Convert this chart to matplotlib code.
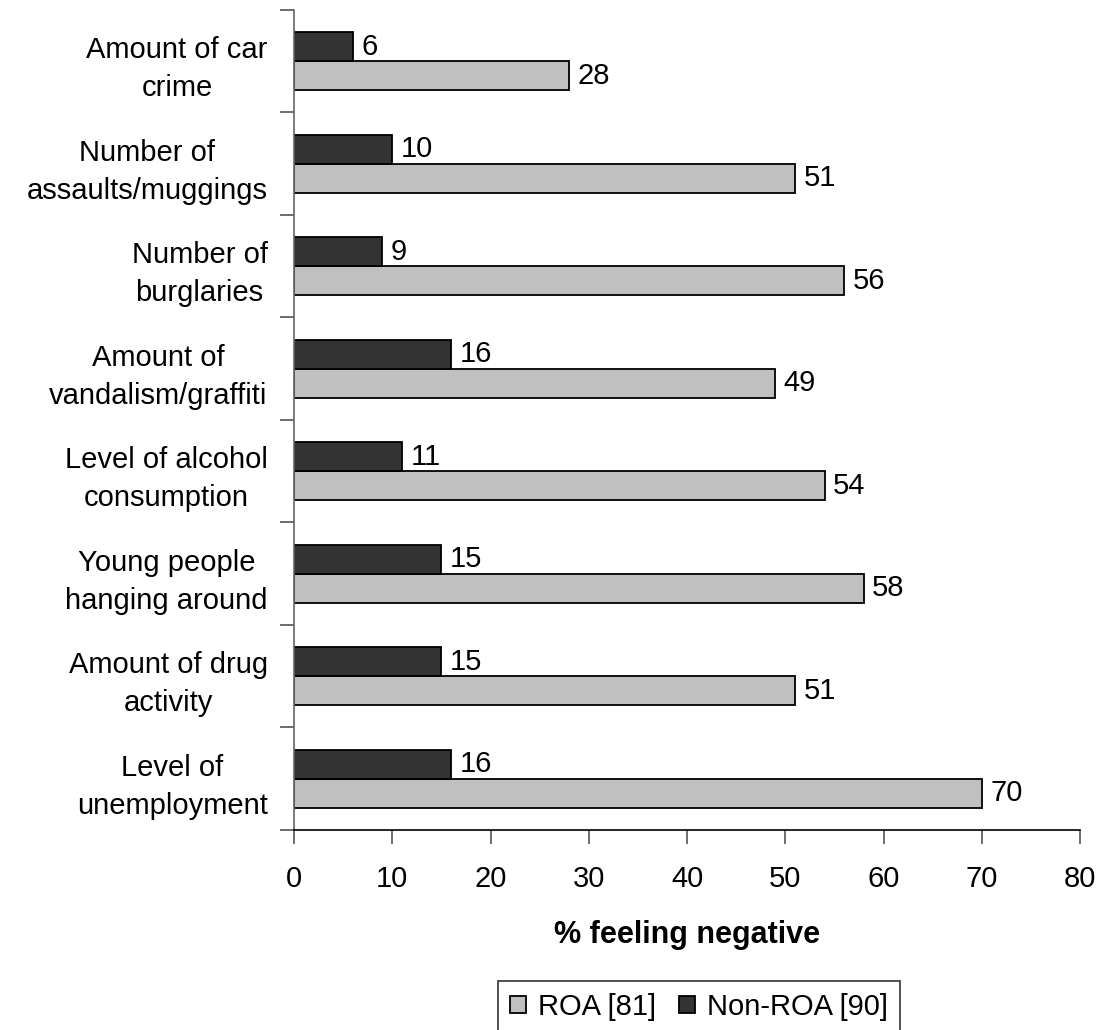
import matplotlib.pyplot as plt
import numpy as np

plt.rcParams['font.family']=['Liberation Sans','DejaVu Sans']

categories=['Amount of car\ncrime','Number of\nassaults/muggings','Number of\nburglaries',
    'Amount of\nvandalism/graffiti','Level of alcohol\nconsumption','Young people\nhanging around',
    'Amount of drug\nactivity','Level of\nunemployment']
roa=[28,51,56,49,54,58,51,70]
non_roa=[6,10,9,16,11,15,15,16]
xticks=[0,10,20,30,40,50,60,70,80]

fs=21
fig=plt.figure(figsize=(11.15,10.3),dpi=100)
ax=fig.add_axes([0.2637,0.1942,0.705,0.7961])

n=len(categories)
y=np.arange(n)[::-1]+0.5
h=0.285
b1=ax.barh(y-h/2,roa,height=h,color='#c0c0c0',edgecolor='black',linewidth=1.3,label='ROA [81]')
b2=ax.barh(y+h/2,non_roa,height=h,color='#333333',edgecolor='black',linewidth=1.3,label='Non-ROA [90]')
for bars,vals in ((b1,roa),(b2,non_roa)):
    for r,v in zip(bars,vals):
        ax.annotate(str(v),(v,r.get_y()+r.get_height()/2),xytext=(6,0),textcoords='offset points',
            va='center',ha='left',fontsize=fs)

ax.set_xlim(0,80)
ax.set_ylim(0,n)
ax.set_xticks(xticks)
ax.set_yticks(np.arange(n+1))
ax.set_yticklabels([])
ax.set_yticks(y,minor=True)
ax.set_yticklabels(categories,minor=True,fontsize=fs,ha='right',multialignment='center',linespacing=1.45)
ax.tick_params(axis='y',which='minor',length=0,pad=19)
ax.tick_params(axis='y',which='major',length=10,color='#555555',width=1.2)
ax.tick_params(axis='x',length=10,labelsize=fs,pad=15,color='#555555',width=1.2)
for s in ['top','right']:
    ax.spines[s].set_visible(False)
ax.spines['left'].set_color('#666666')
ax.spines['bottom'].set_color('black')
ax.spines['left'].set_linewidth(1.2)
ax.spines['bottom'].set_linewidth(1.2)
ax.set_xlabel('% feeling negative',fontsize=22,fontweight='bold',labelpad=20)

leg=ax.legend(loc='upper center',bbox_to_anchor=(699/1115,1-981/1030),bbox_transform=fig.transFigure,
    ncol=2,fontsize=fs,frameon=True,fancybox=False,handlelength=0.55,handleheight=0.55,
    handletextpad=0.4,columnspacing=0.8,borderpad=0.4,borderaxespad=0,edgecolor='black')
leg.get_frame().set_linewidth(1.2)

fig.savefig('out.png',dpi=100)
